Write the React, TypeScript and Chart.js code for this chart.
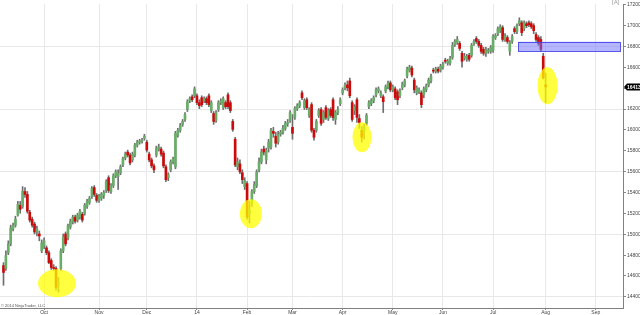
import React, { useEffect, useRef } from 'react';
import { Chart, registerables } from 'chart.js';
Chart.register(...registerables);

// Daily OHLC, trading days from early Sep 2013 to 1 Aug 2014 (index 0 = first bar)
const opens = [14700,14672,14823,14908,15050,15088,15183,15277,15268,15410,15382,15211,15145,15098,15022,15003,14842,14889,14870,14823,14748,14681,14672,14520,14672,14842,15003,14965,15069,15117,15164,15136,15164,15192,15202,15268,15306,15363,15448,15372,15325,15344,15372,15419,15542,15410,15467,15561,15552,15590,15665,15732,15788,15760,15713,15760,15855,15883,15892,15921,15883,15769,15713,15656,15760,15817,15817,15779,15647,15542,15618,15694,15647,15949,15997,16054,16101,16196,16281,16318,16328,16328,16262,16309,16281,16300,16328,16186,16158,16091,16196,16262,16214,16262,16337,16262,16082,15911,15647,15675,15590,15457,15486,15202,15296,15410,15467,15618,15694,15817,15713,15826,15836,15987,15940,15883,15959,15978,16016,16063,16091,16025,16120,16205,16233,16356,16214,16290,16139,16243,15997,15997,16139,16196,16101,16214,16110,16196,16290,16101,16167,16252,16356,16404,16432,16470,16262,16186,16290,16110,15997,15978,16063,16224,16252,16281,16337,16375,16328,16318,16375,16413,16451,16385,16394,16366,16328,16404,16432,16517,16574,16593,16479,16356,16366,16356,16337,16385,16432,16470,16574,16564,16583,16574,16602,16669,16640,16640,16697,16820,16839,16830,16735,16688,16678,16716,16716,16830,16877,16849,16811,16773,16735,16754,16754,16763,16886,16924,16953,16981,16868,16886,16754,16849,16972,16943,17019,17028,16972,17019,17028,17019,17000,16915,16886,16868,16707,16432];
const highs = [14728,14842,14937,15088,15108,15173,15315,15315,15457,15448,15410,15230,15164,15117,15079,15031,14946,14965,14889,14842,14766,14709,14691,14586,14861,15003,15022,15098,15145,15183,15183,15202,15240,15211,15296,15334,15363,15457,15467,15391,15382,15400,15419,15523,15561,15486,15580,15618,15618,15665,15741,15788,15807,15779,15788,15873,15902,15911,15921,15959,15902,15788,15732,15675,15845,15864,15836,15798,15665,15590,15713,15741,15987,16016,16063,16101,16167,16290,16318,16337,16413,16347,16290,16328,16318,16318,16347,16281,16177,16186,16281,16300,16318,16281,16356,16281,16101,15930,15732,15713,15618,15542,15505,15315,15429,15505,15618,15732,15817,15845,15826,15911,16016,16025,15978,15987,15997,16044,16082,16101,16186,16148,16224,16252,16281,16375,16300,16309,16214,16262,16016,16101,16205,16214,16186,16233,16205,16214,16309,16186,16224,16309,16404,16451,16470,16498,16281,16243,16309,16148,16035,16054,16158,16281,16300,16328,16404,16413,16375,16337,16432,16470,16470,16432,16413,16385,16394,16460,16489,16602,16621,16612,16498,16423,16404,16375,16413,16441,16498,16536,16593,16602,16602,16631,16650,16688,16678,16706,16839,16868,16896,16849,16754,16735,16725,16735,16830,16868,16896,16868,16830,16792,16792,16782,16811,16915,16924,16990,17009,17000,16924,16905,16858,16915,16990,17019,17076,17047,17047,17038,17047,17038,17019,16934,16905,16896,16735,16546];
const lows = [14511,14653,14804,14889,15031,15069,15173,15202,15249,15353,15202,15117,15069,15003,14984,14937,14823,14861,14804,14719,14662,14653,14463,14445,14653,14823,14889,14946,15050,15098,15107,15117,15145,15117,15183,15249,15287,15344,15363,15306,15306,15325,15344,15400,15400,15391,15448,15542,15430,15571,15647,15713,15741,15665,15694,15741,15836,15864,15873,15902,15788,15694,15637,15590,15741,15798,15750,15637,15505,15514,15599,15675,15628,15930,15978,16035,16082,16177,16262,16271,16309,16243,16205,16224,16262,16243,16224,16167,16054,16072,16177,16243,16196,16205,16205,16167,15987,15647,15618,15580,15486,15429,15145,15107,15268,15391,15448,15599,15675,15760,15675,15788,15817,15930,15836,15864,15940,15959,15997,16035,16072,15911,16101,16186,16214,16290,16196,16196,16120,15978,15902,15978,16120,16044,16072,16101,16091,16120,16091,16054,16148,16233,16337,16385,16375,16309,16082,16148,16072,16016,15883,15911,16044,16205,16233,16262,16318,16356,16309,16167,16356,16394,16366,16366,16290,16243,16309,16385,16413,16498,16555,16508,16356,16337,16347,16214,16309,16366,16413,16451,16546,16546,16546,16555,16583,16640,16621,16621,16678,16801,16820,16763,16602,16669,16659,16659,16697,16811,16830,16792,16735,16716,16706,16735,16735,16744,16868,16905,16934,16849,16849,16830,16716,16830,16924,16924,17000,16905,16953,16981,16990,16972,16924,16849,16811,16754,16489,16262];
const closes = [14634,14795,14908,15060,15079,15145,15287,15240,15410,15382,15221,15136,15088,15022,15050,14984,14917,14937,14823,14728,14681,14672,14491,14539,14842,14974,14908,15079,15126,15164,15126,15183,15221,15136,15277,15315,15344,15438,15382,15325,15363,15382,15400,15505,15419,15467,15561,15599,15580,15647,15722,15769,15760,15684,15769,15855,15883,15892,15902,15940,15807,15713,15656,15618,15826,15836,15769,15656,15524,15571,15694,15722,15968,15997,16044,16082,16148,16271,16300,16290,16394,16262,16233,16243,16300,16262,16243,16262,16082,16167,16262,16281,16300,16224,16224,16186,16006,15665,15694,15599,15524,15514,15164,15230,15410,15476,15599,15694,15788,15788,15807,15883,15997,15968,15873,15959,15978,16016,16063,16072,16167,15968,16205,16233,16262,16309,16281,16214,16196,15997,15930,16082,16186,16063,16167,16120,16186,16139,16120,16167,16196,16290,16385,16432,16404,16328,16101,16224,16120,16072,15930,16025,16139,16262,16281,16309,16385,16394,16356,16271,16413,16451,16385,16413,16309,16290,16375,16441,16470,16583,16602,16527,16385,16404,16385,16243,16394,16423,16479,16517,16564,16583,16564,16612,16631,16659,16659,16688,16811,16849,16868,16782,16659,16706,16706,16678,16811,16849,16849,16811,16754,16735,16773,16763,16792,16896,16905,16972,16990,16868,16905,16849,16839,16896,16943,17000,17047,16934,17028,17000,17009,16990,16953,16868,16830,16773,16498,16413];

// X axis: month starts (bar index) and their labels
const monthTickIdx = [17, 40, 60, 81, 102, 121, 142, 163, 184, 205, 227, 248];
const monthTickLabels = ['Oct', 'Nov', 'Dec', '14', 'Feb', 'Mar', 'Apr', 'May', 'Jun', 'Jul', 'Aug', 'Sep'];

// Y axis ticks and the prices carrying a grid line
const priceTicks = [14400, 14600, 14800, 15000, 15200, 15400, 15600, 15800, 16000, 16200, 16400, 16600, 16800, 17000, 17200];
const gridPrices = [14400, 15000, 15600, 16200, 16800];

// Highlighted lows (bar index, price) and the resistance zone
const highlightIdx = [22.4, 103.6, 150.1, 227.8];
const highlightPrice = [14530, 15197, 15930, 16423];
const highlightRadius = [[19, 14], [11, 14.5], [9.5, 15], [10, 18.5]];
const zoneIdx = [215.5, 258.2];
const zonePrice = [16757, 16846];

const UP = '#68ad68';
const DOWN = '#cc0a0a';

export default function App() {
  const ref = useRef<HTMLCanvasElement | null>(null);

  useEffect(() => {
    document.body.style.margin = '0';
    const canvas = ref.current;
    if (!canvas) return;
    const idx = closes.map((_, i) => i);
    const wickData = idx.map((i) => ({ x: i, y: [lows[i], highs[i]] }));
    const bodyData = idx.map((i) => ({ x: i, y: [opens[i], closes[i]] }));

    const overlay = {
      id: 'overlay',
      afterDatasetsDraw(chart: any) {
        const { ctx, scales } = chart;
        const xs = scales.x;
        const ys = scales.y;
        ctx.save();
        // resistance zone
        const zx1 = xs.getPixelForValue(zoneIdx[0]);
        const zx2 = xs.getPixelForValue(zoneIdx[1]);
        const zy1 = ys.getPixelForValue(zonePrice[1]);
        const zy2 = ys.getPixelForValue(zonePrice[0]);
        ctx.fillStyle = 'rgba(110,110,255,0.5)';
        ctx.fillRect(zx1, zy1, zx2 - zx1, zy2 - zy1);
        ctx.strokeStyle = 'rgba(70,70,235,0.9)';
        ctx.lineWidth = 1;
        ctx.strokeRect(Math.round(zx1) + 0.5, Math.round(zy1) + 0.5, Math.round(zx2 - zx1), Math.round(zy2 - zy1));
        // yellow ellipses
        ctx.fillStyle = 'rgba(255,255,0,0.75)';
        highlightIdx.forEach((v, k) => {
          const cx = xs.getPixelForValue(v);
          const cy = ys.getPixelForValue(highlightPrice[k]);
          ctx.beginPath();
          ctx.ellipse(cx, cy, highlightRadius[k][0], highlightRadius[k][1], 0, 0, Math.PI * 2);
          ctx.fill();
        });
        ctx.restore();
      },
      afterDraw(chart: any) {
        const { ctx, scales, chartArea } = chart;
        const ys = scales.y;
        ctx.save();
        // last price marker
        const last = closes[closes.length - 1];
        const py = ys.getPixelForValue(last);
        const left = chartArea.right + 1;
        ctx.fillStyle = '#000';
        ctx.beginPath();
        ctx.moveTo(left, py);
        ctx.lineTo(left + 3, py - 3.5);
        ctx.lineTo(640, py - 3.5);
        ctx.lineTo(640, py + 3.5);
        ctx.lineTo(left + 3, py + 3.5);
        ctx.closePath();
        ctx.fill();
        ctx.fillStyle = '#fff';
        ctx.font = 'bold 5px "Liberation Sans", Arial, sans-serif';
        ctx.textBaseline = 'middle';
        ctx.textAlign = 'left';
        ctx.fillText(String(last), left + 3, py + 0.5);
        // copyright
        ctx.fillStyle = '#555';
        ctx.font = '4px "Liberation Sans", Arial, sans-serif';
        ctx.textBaseline = 'alphabetic';
        ctx.fillText('\u00A9 2014 NinjaTrader, LLC', 1, 307);
        // auto-scale marker
        ctx.fillStyle = '#999';
        ctx.font = '6px "Liberation Sans", Arial, sans-serif';
        ctx.textBaseline = 'top';
        ctx.fillText('[A]', 612, -1);
        ctx.restore();
      },
    };

    const chart = new Chart(canvas, {
      type: 'bar',
      data: {
        datasets: [
          {
            label: 'wick',
            data: wickData as any,
            backgroundColor: '#6e6e6e',
            barThickness: 1,
            grouped: false,
            order: 2,
          } as any,
          {
            label: 'body',
            data: bodyData as any,
            backgroundColor: (c: any) => (closes[c.dataIndex] >= opens[c.dataIndex] ? UP : DOWN),
            barThickness: 2,
            minBarLength: 1,
            grouped: false,
            order: 1,
          } as any,
        ],
      },
      options: {
        animation: false,
        responsive: false,
        maintainAspectRatio: false,
        layout: { padding: 0 },
        plugins: { legend: { display: false }, tooltip: { enabled: false } },
        scales: {
          x: {
            type: 'linear',
            min: -1.466,
            max: 259.4,
            offset: false,
            afterBuildTicks: (s: any) => {
              s.ticks = monthTickIdx.map((v) => ({ value: v }));
            },
            afterFit: (s: any) => {
              s.height = 7;
            },
            ticks: {
              autoSkip: false,
              maxRotation: 0,
              padding: 0,
              color: '#444',
              font: { size: 5, family: '"Liberation Sans", Arial, sans-serif' },
              callback: (v: any) => monthTickLabels[monthTickIdx.indexOf(Number(v))] ?? '',
            },
            grid: { color: '#e8e8e8', tickColor: '#888', tickLength: 2, offset: false },
            border: { color: '#808080' },
          },
          y: {
            type: 'linear',
            position: 'right',
            min: 14293,
            max: 17208,
            afterBuildTicks: (s: any) => {
              s.ticks = priceTicks.map((v) => ({ value: v }));
            },
            afterFit: (s: any) => {
              s.width = 17;
            },
            ticks: {
              padding: 1,
              color: '#444',
              font: { size: 5, family: '"Liberation Sans", Arial, sans-serif' },
              callback: (v: any) => String(v),
            },
            grid: {
              color: (c: any) => (c.tick && gridPrices.includes(c.tick.value) ? '#e8e8e8' : 'rgba(0,0,0,0)'),
              tickColor: '#888',
              tickLength: 3,
            },
            border: { color: '#808080' },
          },
        },
      },
      plugins: [overlay],
    } as any);
    return () => chart.destroy();
  }, []);

  return (
    <div style={{ position: 'fixed', left: 0, top: 0, width: 640, height: 315, background: '#fff' }}>
      <canvas ref={ref} width={640} height={315} style={{ display: 'block', width: 640, height: 315 }} />
    </div>
  );
}
